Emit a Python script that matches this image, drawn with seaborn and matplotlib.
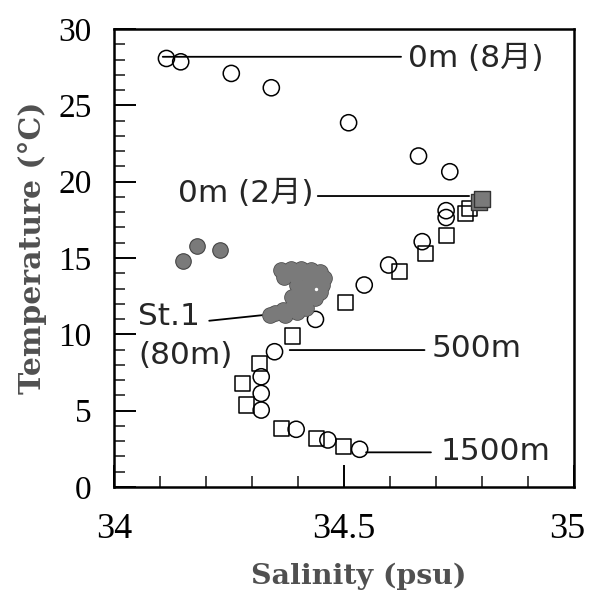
import numpy as np
import pandas as pd
import seaborn as sns
import matplotlib
matplotlib.use("Agg")
import matplotlib.pyplot as plt
import matplotlib.transforms as mtransforms
from matplotlib.ticker import MultipleLocator

# ---- data ----
# open circles : 0m (Aug) down to 1500m profile
sal_circ = [34.114, 34.145, 34.255, 34.342, 34.510, 34.662, 34.730, 34.722, 34.722,
            34.670, 34.597, 34.544, 34.438, 34.349, 34.320, 34.320, 34.320,
            34.396, 34.465, 34.534]
temp_circ = [28.07, 27.85, 27.09, 26.15, 23.86, 21.68, 20.65, 18.10, 17.65,
             16.07, 14.54, 13.23, 10.98, 8.86, 7.22, 6.13, 5.04,
             3.78, 3.08, 2.47]

# open squares : 0m (Feb) profile
sal_sq = [34.772, 34.765, 34.722, 34.678, 34.620, 34.503, 34.389, 34.317,
          34.280, 34.288, 34.364, 34.440, 34.499]
temp_sq = [18.25, 17.92, 16.50, 15.30, 14.10, 12.07, 9.89, 8.10,
           6.79, 5.37, 3.84, 3.19, 2.64]

# grey filled squares (surface, Feb)
sal_gsq = [34.793, 34.800]
temp_gsq = [18.68, 18.85]

# grey filled circles (isolated)
sal_gdot = [34.150, 34.181, 34.231]
temp_gdot = [14.82, 15.80, 15.52]

# St.1 (80m) cloud
sal_st1 = [34.363, 34.385, 34.406, 34.428, 34.448, 34.457, 34.369, 34.395, 34.422, 34.443,
           34.452, 34.435, 34.411, 34.404, 34.430, 34.448, 34.415, 34.437,
           34.404, 34.387, 34.367, 34.350, 34.339, 34.372, 34.398, 34.417,
           34.398, 34.387, 34.424]
temp_st1 = [14.21, 14.28, 14.28, 14.21, 14.08, 13.69, 13.75, 13.75, 13.75, 13.56,
            13.23, 13.10, 13.10, 12.64, 12.64, 12.77, 12.25, 12.38,
            11.99, 11.79, 11.59, 11.39, 11.26, 11.26, 11.46, 11.72,
            13.23, 12.44, 13.43]

st1_center_sal = [34.440]
st1_center_temp = [12.95]

df_circ = pd.DataFrame({"Salinity": sal_circ, "Temperature": temp_circ})
df_sq = pd.DataFrame({"Salinity": sal_sq, "Temperature": temp_sq})
df_gsq = pd.DataFrame({"Salinity": sal_gsq, "Temperature": temp_gsq})
df_gdot = pd.DataFrame({"Salinity": sal_gdot, "Temperature": temp_gdot})
df_st1 = pd.DataFrame({"Salinity": sal_st1, "Temperature": temp_st1})
df_c = pd.DataFrame({"Salinity": st1_center_sal, "Temperature": st1_center_temp})

sns.set_style("ticks")
plt.rcParams["font.family"] = ["Liberation Serif", "DejaVu Serif"]

fig = plt.figure(figsize=(5.9, 5.92), dpi=100)
ax = fig.add_axes([114 / 590, 1 - 487 / 592, (574 - 114) / 590, (487 - 29) / 592])

GREY = "#7a7a7a"

# open squares
sns.scatterplot(data=df_sq, x="Salinity", y="Temperature", marker="s", s=118,
                color="black", edgecolor="black", linewidth=1.1, ax=ax, zorder=3)
ax.collections[-1].set_facecolor("none")
# grey squares
sns.scatterplot(data=df_gsq, x="Salinity", y="Temperature", marker="s", s=140,
                color=GREY, edgecolor="#333333", linewidth=1.0, ax=ax, zorder=3)
# open circles
sns.scatterplot(data=df_circ, x="Salinity", y="Temperature", marker="o", s=135,
                color="black", edgecolor="black", linewidth=1.1, ax=ax, zorder=4)
ax.collections[-1].set_facecolor("none")
# St.1 cloud
sns.scatterplot(data=df_st1, x="Salinity", y="Temperature", marker="o", s=125,
                color=GREY, edgecolor="#555555", linewidth=0.8, ax=ax, zorder=5)
sns.scatterplot(data=df_st1, x="Salinity", y="Temperature", marker="o", s=110,
                color=GREY, edgecolor=GREY, linewidth=0, ax=ax, zorder=5.5)
sns.scatterplot(data=df_c, x="Salinity", y="Temperature", marker="o", s=6,
                color="white", edgecolor="white", linewidth=0, ax=ax, zorder=6)
# isolated grey dots
sns.scatterplot(data=df_gdot, x="Salinity", y="Temperature", marker="o", s=125,
                color=GREY, edgecolor="#444444", linewidth=0.8, ax=ax, zorder=5)

ax.set_xlim(34, 35)
ax.set_ylim(0, 30)
ax.xaxis.set_minor_locator(MultipleLocator(0.1))
ax.yaxis.set_major_locator(MultipleLocator(5))
ax.yaxis.set_minor_locator(MultipleLocator(1))
ax.set_xticks([34, 34.5, 35])
ax.set_xticklabels(["34", "34.5", "35"])
ax.tick_params(which="major", direction="in", length=16, width=1.4,
               colors="black", top=False, right=False)
ax.tick_params(which="minor", direction="in", length=8, width=1.2, top=False, right=False)
ax.tick_params(axis="x", which="major", labelsize=26, pad=19)
ax.tick_params(axis="y", which="major", labelsize=24, pad=16)
for sp in ax.spines.values():
    sp.set_linewidth(1.8)
    sp.set_color("black")
    sp.set_visible(True)

# keep the "35" label inside the figure
lab35 = ax.get_xticklabels()[-1]
lab35.set_transform(lab35.get_transform() +
                    mtransforms.ScaledTranslation(-5 / 72, 0, fig.dpi_scale_trans))

ax.set_xlabel("Salinity (psu)", fontsize=20.5, fontweight="bold", color="#505050",
              family="DejaVu Serif")
ax.set_ylabel("Temperature (\u00b0C)", fontsize=21.5, fontweight="bold", color="#505050",
              family="DejaVu Serif")
ax.xaxis.set_label_coords(0.533, -0.166)
ax.yaxis.set_label_coords(-0.146, 0.523)

# annotations with leader lines
jfont = ["DejaVu Sans", "Noto Sans CJK JP"]
tsize = 22.5
line_kw = dict(arrowstyle="-", color="black", lw=1.3, shrinkA=0, shrinkB=0)

def leader(x0, y0, x1, y1):
    ax.annotate("", xy=(x0, y0), xytext=(x1, y1), arrowprops=line_kw, zorder=2)

leader(34.106, 28.18, 34.624, 28.18)
ax.text(34.639, 28.1, "0m (8\u6708)", fontsize=tsize, family=jfont, va="center", ha="left")

leader(34.443, 19.06, 34.772, 19.06)
ax.text(34.433, 19.25, "0m (2\u6708)", fontsize=tsize, family=jfont, va="center", ha="right")

leader(34.207, 10.89, 34.324, 11.26)
ax.text(34.052, 11.15, "St.1", fontsize=tsize, family=jfont, va="center", ha="left")
ax.text(34.052, 8.64, "(80m)", fontsize=tsize, family=jfont, va="center", ha="left")

leader(34.382, 8.97, 34.675, 8.97)
ax.text(34.691, 9.10, "500m", fontsize=tsize, family=jfont, va="center", ha="left")

leader(34.548, 2.27, 34.689, 2.27)
ax.text(34.709, 2.31, "1500m", fontsize=tsize, family=jfont, va="center", ha="left")

fig.savefig("out.png", dpi=100)
